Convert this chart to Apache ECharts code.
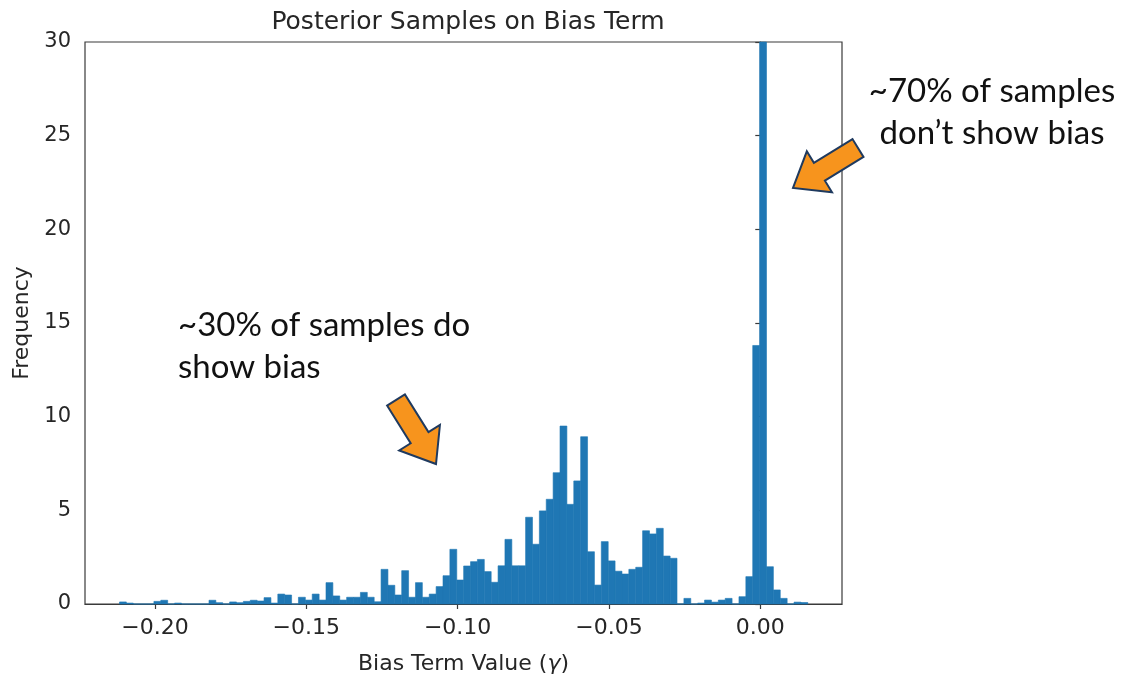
<!DOCTYPE html>
<html><head><meta charset="utf-8">
<script src="https://cdn.jsdelivr.net/npm/echarts@6/dist/echarts.min.js"></script>
<style>html,body{margin:0;padding:0;background:#fff}#c{width:1126px;height:674px}</style>
</head><body><div id="c"></div>
<script>
// Histogram layout (bin edges) and read-off densities
const binStart = -0.2117;
const binWidth = 0.002274;
const frequency = [
  0.11, 0.05, 0, 0, 0, 0.14, 0.20, 0, 0.05, 0,
  0, 0, 0, 0.20, 0.07, 0, 0.11, 0.07, 0.14, 0.20,
  0.16, 0.34, 0.05, 0.53, 0.48, 0, 0.36, 0.21, 0.53, 0.21,
  1.14, 0.43, 0.21, 0.36, 0.36, 0.62, 0.36, 0.12, 1.85, 1.00,
  0.48, 1.78, 0.36, 1.14, 0.36, 0.53, 0.93, 1.51, 2.92, 1.28,
  2.03, 2.26, 2.38, 1.73, 1.16, 2.04, 3.45, 2.04, 2.04, 4.63,
  3.19, 4.97, 5.59, 7.01, 9.50, 5.32, 6.57, 8.93, 2.79, 1.01,
  3.33, 2.30, 1.75, 1.60, 1.85, 1.96, 3.91, 3.74, 4.04, 2.56,
  2.44, 0, 0.30, 0, 0.05, 0.21, 0.10, 0.21, 0.30, 0,
  0.39, 1.46, 13.8, 290, 1.99, 0.75, 0.30, 0, 0.10, 0.08
];
const xTicks = [-0.20, -0.15, -0.10, -0.05, 0.00];
const yTicks = [0, 5, 10, 15, 20, 25, 30];
const titleText = 'Posterior Samples on Bias Term';
const xName = 'Bias Term Value ({g|γ})';
const yName = 'Frequency';
const note1 = '~70% of samples\ndon\u2019t show bias';
const note2 = '~30% of samples do\nshow bias';

const data = frequency.map((v, i) => [binStart + i * binWidth, binStart + (i + 1) * binWidth, v]);

function arrowPoints(tail, tip, shaftW, headW, headL) {
  const dx = tip[0] - tail[0], dy = tip[1] - tail[1];
  const L = Math.hypot(dx, dy);
  const ux = dx / L, uy = dy / L, nx = -uy, ny = ux;
  const bx = tip[0] - ux * headL, by = tip[1] - uy * headL;
  return [
    [tail[0] + nx * shaftW / 2, tail[1] + ny * shaftW / 2],
    [bx + nx * shaftW / 2, by + ny * shaftW / 2],
    [bx + nx * headW / 2, by + ny * headW / 2],
    tip,
    [bx - nx * headW / 2, by - ny * headW / 2],
    [bx - nx * shaftW / 2, by - ny * shaftW / 2],
    [tail[0] - nx * shaftW / 2, tail[1] - ny * shaftW / 2]
  ];
}

const txtColor = '#262626';
const axisColor = '#3a3a3a';
const fmt = v => (v < 0 ? '\u2212' : '') + Math.abs(v).toFixed(2);

const chart = echarts.init(document.getElementById('c'), null, {renderer: 'canvas'});
chart.setOption({
  backgroundColor: '#fff',
  animation: false,
  title: {
    text: titleText, left: 463, top: 5, textAlign: 'center',
    textStyle: {fontFamily: 'DejaVu Sans', fontSize: 25, fontWeight: 'normal', color: txtColor}
  },
  grid: {left: 85, right: 284, top: 42, bottom: 70, containLabel: false, outerBoundsMode: 'none',
    show: true, borderColor: axisColor, borderWidth: 1.2, backgroundColor: 'transparent'},
  xAxis: {
    type: 'value', min: -0.2231, max: 0.0270,
    name: xName, nameLocation: 'middle', nameGap: 49,
    nameTextStyle: {fontFamily: 'DejaVu Sans', fontSize: 22, color: txtColor,
      rich: {g: {fontFamily: 'DejaVu Sans', fontStyle: 'italic', fontSize: 22, color: txtColor}}},
    splitLine: {show: false},
    axisLine: {show: true, onZero: false, lineStyle: {color: axisColor, width: 1.2}},
    axisTick: {show: true, length: 5, customValues: xTicks, lineStyle: {color: axisColor, width: 1.2}},
    axisLabel: {customValues: xTicks, formatter: fmt, margin: 13, fontFamily: 'DejaVu Sans', fontSize: 22, color: txtColor}
  },
  yAxis: {
    type: 'value', min: 0, max: 30, interval: 5,
    name: yName, nameLocation: 'middle', nameGap: 49, nameRotate: 90,
    nameTextStyle: {fontFamily: 'DejaVu Sans', fontSize: 22, color: txtColor},
    splitLine: {show: false},
    axisLine: {show: true, lineStyle: {color: axisColor, width: 1.2}},
    axisTick: {show: true, length: 5, lineStyle: {color: axisColor, width: 1.2}},
    axisLabel: {margin: 14, fontFamily: 'DejaVu Sans', fontSize: 21, color: txtColor}
  },
  series: [{
    type: 'custom',
    data: data,
    encode: {x: [0, 1], y: 2},
    renderItem: function (params, api) {
      const p0 = api.coord([api.value(0), 0]);
      const p1 = api.coord([api.value(1), api.value(2)]);
      const cs = params.coordSys;
      const shape = echarts.graphic.clipRectByRect(
        {x: p0[0], y: p1[1], width: p1[0] - p0[0], height: p0[1] - p1[1]},
        {x: cs.x, y: cs.y, width: cs.width, height: cs.height});
      if (!shape) return null;
      return {type: 'rect', shape: shape, style: {fill: '#1f77b4', stroke: '#1f77b4', lineWidth: 0.6}};
    }
  }],
  graphic: [
    {type: 'text', x: 992, y: 70, style: {text: note1, font: '33px Lato', fill: '#111', align: 'center', verticalAlign: 'top', lineHeight: 42}},
    {type: 'text', x: 178, y: 304, style: {text: note2, font: '33px Lato', fill: '#111', align: 'left', verticalAlign: 'top', lineHeight: 42}},
    {type: 'polygon', shape: {points: arrowPoints([858, 148], [793, 188], 21, 48, 31)}, style: {fill: '#F7941D', stroke: '#1F3A5F', lineWidth: 2}},
    {type: 'polygon', shape: {points: arrowPoints([396, 400], [436, 464], 21, 48, 31)}, style: {fill: '#F7941D', stroke: '#1F3A5F', lineWidth: 2}}
  ]
});
</script>
</body></html>
